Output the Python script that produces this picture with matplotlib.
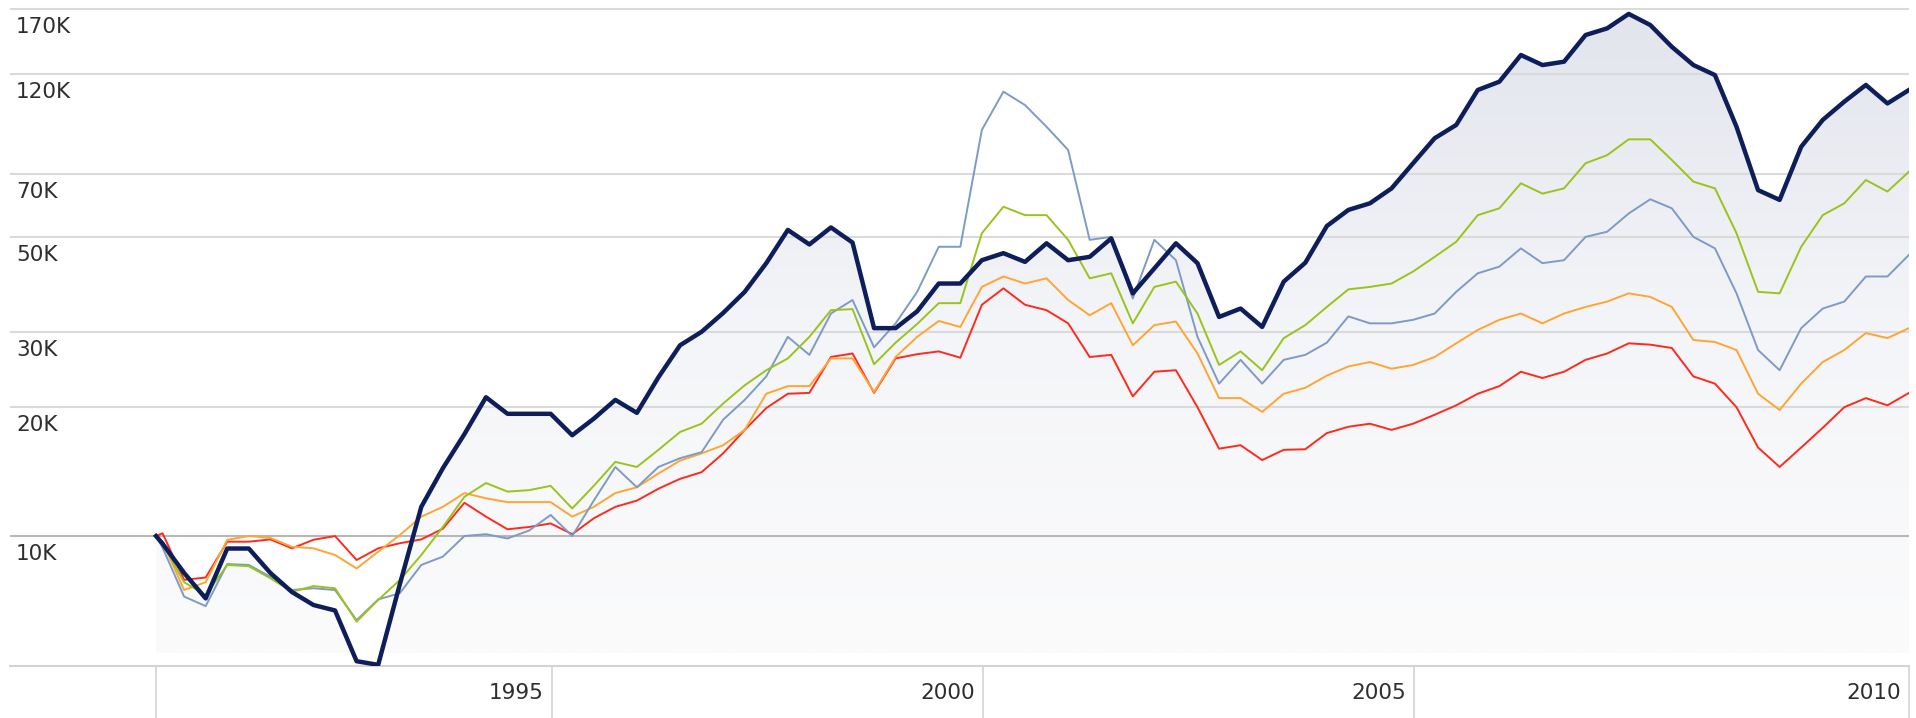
import numpy as np
import matplotlib
matplotlib.use("Agg")
import matplotlib.pyplot as plt
from matplotlib.colors import LinearSegmentedColormap
from matplotlib.transforms import blended_transform_factory, offset_copy

# growth of 10K, quarterly values in thousands
start_year = 1990.414
quarter_years = 1990.49 + 0.25 * np.arange(82)
years = np.concatenate([[start_year], quarter_years])

navy = [10.0, 9.6, 8.2, 7.15, 9.35, 9.35, 8.2, 7.4, 6.9, 6.7,
        5.1, 5.0, 7.7, 11.7, 14.4, 17.3, 21.1, 19.3, 19.3, 19.3,
        17.2, 18.8, 20.8, 19.4, 23.5, 27.9, 30.0, 33.2, 37.2, 43.4,
        51.9, 48.0, 52.6, 48.5, 30.6, 30.6, 33.5, 38.9, 38.9, 44.1,
        45.8, 43.7, 48.3, 44.1, 44.9, 49.6, 36.9, 42.2, 48.3, 43.4,
        32.5, 34.0, 30.8, 39.3, 43.5, 53.0, 57.8, 59.9, 64.9, 74.3,
        85.0, 91.3, 110.2, 115.2, 133.0, 126.0, 128.3, 148.1, 153.5, 165.9,
        156.3, 139.0, 126.0, 119.4, 90.4, 64.3, 61.0, 81.2, 93.8, 103.5,
        113.2, 102.5, 110.2]

blue = [10.0, 9.4, 7.22, 6.86, 8.6, 8.56, 8.03, 7.48, 7.55, 7.48,
        6.36, 7.11, 7.35, 8.56, 8.95, 10.0, 10.1, 9.87, 10.3, 11.2,
        10.0, 12.1, 14.5, 13.0, 14.5, 15.2, 15.7, 18.7, 20.8, 23.6,
        29.2, 26.5, 33.1, 35.6, 27.6, 31.4, 37.2, 47.4, 47.4, 88.9,
        109.2, 101.6, 90.4, 79.8, 49.2, 50.0, 35.9, 49.2, 44.1, 29.2,
        22.7, 25.8, 22.7, 25.8, 26.5, 28.3, 32.6, 31.4, 31.4, 32.0,
        33.1, 37.2, 41.1, 42.6, 47.0, 43.4, 44.1, 50.0, 51.4, 56.7,
        61.2, 58.3, 50.0, 47.0, 36.9, 27.2, 24.4, 30.6, 34.0, 35.3,
        40.4, 40.4, 45.4]

green = [10.0, 9.6, 7.8, 7.28, 8.56, 8.5, 7.97, 7.41, 7.64, 7.55,
         6.31, 7.09, 7.89, 9.03, 10.5, 12.35, 13.3, 12.7, 12.8, 13.1,
         11.6, 13.1, 14.9, 14.5, 15.9, 17.5, 18.3, 20.4, 22.5, 24.4,
         26.0, 29.2, 33.7, 33.9, 25.2, 28.3, 31.3, 35.0, 35.0, 51.0,
         58.8, 56.2, 56.2, 49.2, 40.0, 41.1, 31.4, 38.2, 39.3, 33.1,
         25.1, 27.0, 24.4, 29.0, 31.1, 34.3, 37.7, 38.2, 38.9, 41.5,
         44.9, 48.7, 56.2, 58.3, 66.7, 63.1, 64.9, 74.3, 77.6, 84.5,
         84.5, 75.6, 67.3, 64.9, 51.0, 37.2, 36.9, 47.4, 56.2, 59.9,
         67.9, 63.8, 71.0]

orange = [10.0, 9.7, 7.48, 7.8, 9.8, 10.0, 9.9, 9.44, 9.36, 9.03,
          8.4, 9.19, 10.05, 11.1, 11.7, 12.6, 12.25, 12.0, 12.0, 12.0,
          11.1, 11.7, 12.6, 13.0, 14.0, 15.0, 15.6, 16.3, 17.7, 21.5,
          22.4, 22.4, 26.0, 26.0, 21.7, 26.2, 29.2, 31.8, 30.8, 38.2,
          40.4, 38.9, 40.0, 35.6, 32.8, 35.0, 27.9, 31.1, 31.7, 26.7,
          21.0, 21.0, 19.5, 21.5, 22.2, 23.7, 24.9, 25.5, 24.6, 25.1,
          26.2, 28.2, 30.3, 32.0, 33.1, 31.4, 33.1, 34.3, 35.3, 36.9,
          36.2, 34.3, 28.7, 28.4, 27.2, 21.5, 19.7, 22.7, 25.5, 27.2,
          29.8, 29.0, 30.6]

red = [10.0, 10.15, 7.9, 8.0, 9.7, 9.7, 9.82, 9.36, 9.8, 10.0,
       8.79, 9.36, 9.62, 9.82, 10.4, 11.96, 11.1, 10.37, 10.5, 10.7,
       10.1, 11.0, 11.7, 12.1, 12.9, 13.6, 14.1, 15.6, 17.7, 19.9,
       21.5, 21.6, 26.2, 26.7, 21.6, 26.0, 26.6, 27.0, 26.1, 34.7,
       37.9, 34.7, 33.7, 31.4, 26.2, 26.5, 21.2, 24.2, 24.4, 20.0,
       16.0, 16.3, 15.05, 15.9, 15.95, 17.4, 18.0, 18.3, 17.7, 18.3,
       19.2, 20.2, 21.5, 22.4, 24.2, 23.4, 24.2, 25.8, 26.7, 28.2,
       28.0, 27.5, 23.6, 22.7, 20.0, 16.1, 14.5, 16.1, 17.9, 20.0,
       21.0, 20.2, 21.6]

grid_values = [20, 30, 50, 70, 120, 170]
base_value = 10
x_ticks = [years[0], 1995, 2000, 2005, years[-1]]
x_labels = ["", "1995", "2000", "2005", "2010"]

W, H = 1916, 718
fig = plt.figure(figsize=(W / 100, H / 100), dpi=100)
ax_left, ax_right, ax_top, ax_bottom = 10, 1909, 0, 666
ax = fig.add_axes([ax_left / W, (H - ax_bottom) / H,
                   (ax_right - ax_left) / W, (ax_bottom - ax_top) / H])
ax.set_yscale("log")

# data starts at pixel 156, ends at right edge
ppy = (ax_right - 156) / (years[-1] - years[0])
x_min = years[0] - (156 - ax_left) / ppy

# gradient fill under the main line
fill_base = 5.33
poly = ax.fill_between(years, fill_base, navy, color="none", lw=0)
cmap = LinearSegmentedColormap.from_list("bg", ["#fbfbfc", "#f4f5f8", "#e1e4ec"])
grad = np.linspace(0, 1, 256).reshape(-1, 1)
base_frac = (ax_bottom - 653) / (ax_bottom - ax_top)
im = ax.imshow(grad, extent=(0, 1, base_frac, 1), transform=ax.transAxes,
               origin="lower", aspect="auto", cmap=cmap, zorder=0.5,
               interpolation="bilinear")
im.set_clip_path(poly.get_paths()[0], transform=ax.transData)
ax.set_xlim(x_min, years[-1])
ax.set_ylim(4.97, 178.8)

for v in grid_values:
    ax.axhline(v, color="#dadada", lw=1.5, zorder=1)
ax.axhline(base_value, color="#b8b8b8", lw=1.5, zorder=1)

ax.plot(years, red, color="#ff2a1e", lw=1.4, zorder=3)
ax.plot(years, orange, color="#ffa534", lw=1.4, zorder=3)
ax.plot(years, blue, color="#7d9bc4", lw=1.4, zorder=3)
ax.plot(years, green, color="#9ac31c", lw=1.4, zorder=3)
ax.plot(years, navy, color="#0e1e5b", lw=3.2, zorder=4)

for s in ["left", "top", "right"]:
    ax.spines[s].set_visible(False)
ax.spines["bottom"].set_color("#d3d3d3")
ax.spines["bottom"].set_linewidth(1.5)

ax.set_xticks(x_ticks)
ax.set_xticklabels([])
ax.tick_params(axis="x", direction="out", length=38, width=1.4, color="#d9d9d9")
ax.set_yticks([])
ax.yaxis.set_minor_locator(plt.NullLocator())

font = dict(family="DejaVu Sans", size=15.5, color="#2e2e2e")
tx = blended_transform_factory(ax.transData, ax.transAxes)
tx = offset_copy(tx, fig=fig, x=-8, y=-27, units="dots")
for x, lab in zip(x_ticks, x_labels):
    ax.text(x, 0, lab, transform=tx, ha="right", va="center", **font)

ty = blended_transform_factory(ax.transAxes, ax.transData)
ty = offset_copy(ty, fig=fig, x=6, y=-18, units="dots")
for v in [base_value] + grid_values:
    ax.text(0, v, f"{v}K", transform=ty, ha="left", va="center", **font)

fig.savefig("out.png", dpi=100)
